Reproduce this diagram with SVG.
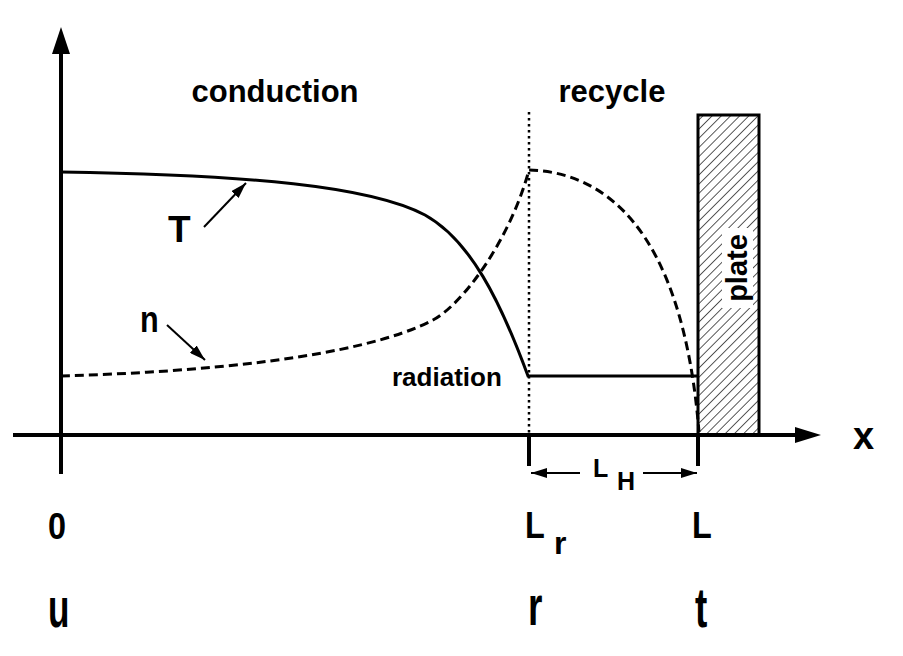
<svg xmlns="http://www.w3.org/2000/svg" width="903" height="656" viewBox="0 0 903 656">
<style>
  .lbl { font-family: "Liberation Sans", Arial, Helvetica, sans-serif; font-weight: bold; fill: #000; }
  .axis { stroke: #000; stroke-width: 4; fill: none; }
  .curveT { stroke: #000; stroke-width: 3; fill: none; }
  .curveN { stroke: #000; stroke-width: 3; fill: none; stroke-dasharray: 9 5; }
  .dotted { stroke: #000; stroke-width: 2.5; fill: none; stroke-dasharray: 2.5 3.5; }
  .ptr { stroke: #000; stroke-width: 2; fill: none; }
</style>
<defs>
  <marker id="ah" viewBox="0 0 16 10" refX="16" refY="5" markerWidth="16" markerHeight="10" markerUnits="userSpaceOnUse" orient="auto">
    <path d="M0,0 L16,5 L0,10 z" fill="#000"/>
  </marker>
  <pattern id="hatch" patternUnits="userSpaceOnUse" width="6.5" height="6.5" patternTransform="rotate(45)">
    <line x1="0" y1="0" x2="0" y2="6.5" stroke="#000" stroke-width="1.3"/>
  </pattern>
</defs>
<rect width="903" height="656" fill="#fff"/>

<g id="axes">
  <line class="axis" x1="61" y1="50" x2="61" y2="474"/>
  <polygon points="61,27 52,54 70,54" fill="#000"/>
  <line class="axis" x1="13" y1="435" x2="798" y2="435"/>
  <polygon points="821,435 795,427 795,443" fill="#000"/>
  <line class="dotted" x1="529" y1="112" x2="529" y2="435"/>
  <line class="axis" x1="529" y1="435" x2="529" y2="466" stroke-width="3"/>
  <line class="axis" x1="698" y1="435" x2="698" y2="466" stroke-width="3"/>
</g>

<g id="plate">
  <rect x="698" y="115" width="61" height="320" fill="url(#hatch)" stroke="#000" stroke-width="3"/>
  <rect x="722" y="228" width="31" height="80" fill="#fff"/>
  <text class="lbl" font-size="29" text-anchor="middle" transform="translate(747,268) rotate(-90)">plate</text>
</g>

<g id="curve-T">
  <path class="curveT" d="M61,172 C250,175 370,186 425,215 C470,240 500,300 528,376 L698,376"/>
</g>

<g id="curve-n">
  <path class="curveN" d="M61,376 C200,372 360,358 433,320 C463,304 510,240 529,170 C600,172 682,222 699,432"/>
</g>

<g id="connectors">
  <line class="ptr" x1="204" y1="227" x2="246" y2="183" marker-end="url(#ah)"/>
  <line class="ptr" x1="167" y1="325" x2="205" y2="360" marker-end="url(#ah)"/>
  <line class="ptr" x1="580" y1="473" x2="531" y2="473" marker-end="url(#ah)"/>
  <line class="ptr" x1="643" y1="473" x2="697" y2="473" marker-end="url(#ah)"/>
</g>

<g id="labels">
  <text class="lbl" font-size="31" x="275" y="102" text-anchor="middle">conduction</text>
  <text class="lbl" font-size="31" x="612" y="102" text-anchor="middle">recycle</text>
  <text class="lbl" font-size="37" x="168" y="242">T</text>
  <text class="lbl" font-size="36" transform="translate(140,332) scale(0.85,1.05)">n</text>
  <text class="lbl" font-size="26" x="392" y="386">radiation</text>
  <text class="lbl" font-size="38" x="853" y="449">x</text>
  <text class="lbl" font-size="25" x="593" y="477">L</text>
  <text class="lbl" font-size="25" x="617" y="490">H</text>
  <text class="lbl" font-size="36" transform="translate(48,539) scale(0.9,1.05)">0</text>
  <text class="lbl" font-size="36" transform="translate(525,538) scale(0.9,1.05)">L</text>
  <text class="lbl" font-size="32" x="554" y="554">r</text>
  <text class="lbl" font-size="36" transform="translate(692,538) scale(0.9,1.05)">L</text>
  <text class="lbl" font-size="37" transform="translate(48,627) scale(0.95,1.5)">u</text>
  <text class="lbl" font-size="37" transform="translate(528,625) scale(1,1.5)">r</text>
  <text class="lbl" font-size="37" transform="translate(695,627) scale(1,1.5)">t</text>
</g>
</svg>
